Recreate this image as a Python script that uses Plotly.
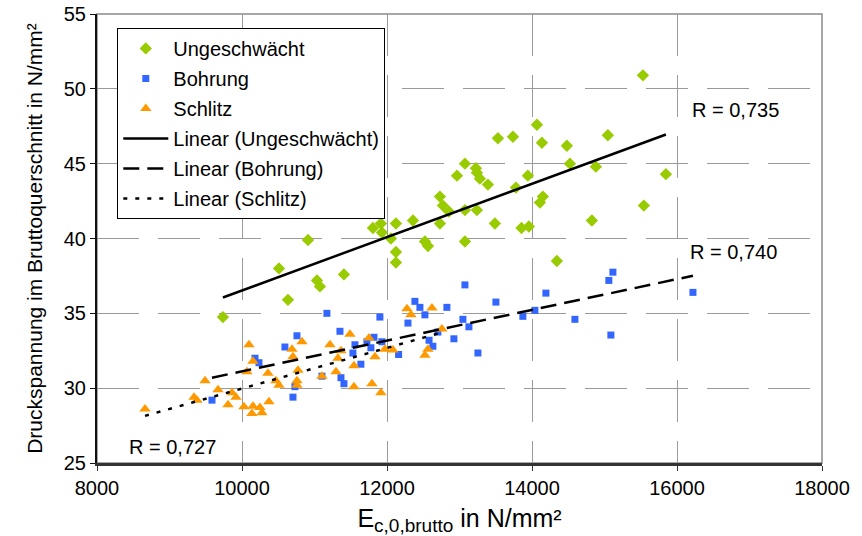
import numpy as np
import plotly.graph_objects as go

# ---- data ----
ung_x = [9737, 10510, 10634, 10910, 11034, 11075, 11406, 11806, 11916, 11930,
         12054, 12123, 12123, 12123, 12358, 12523, 12565, 12730, 12771, 12730,
         12854, 12965, 13075, 13075, 13075, 13226, 13240, 13281, 13240, 13392,
         13488, 13530, 13737, 13778, 13855, 13957, 13943, 14068, 14137, 14109,
         14150, 14343, 14481, 14523, 14826, 14881, 15046, 15530, 15543, 15847]
ung_y = [34.75, 38.0, 35.9, 39.9, 37.2, 36.8, 37.6, 40.7, 41.0, 40.4,
         40.0, 41.0, 39.1, 38.4, 41.2, 39.8, 39.5, 42.8, 42.2, 41.0,
         41.8, 44.2, 45.0, 41.9, 39.8, 44.7, 44.4, 44.0, 41.9, 43.6,
         41.0, 46.7, 46.8, 43.4, 40.7, 40.8, 44.2, 47.6, 46.4, 42.4,
         42.8, 38.5, 46.2, 45.0, 41.2, 44.8, 46.9, 50.9, 42.2, 44.3]

bohr_x = [9586, 10179, 10234, 10592, 10703, 10730, 10758, 11103, 11171, 11351,
          11365, 11406, 11530, 11558, 11640, 11723, 11778, 11820, 11902, 11930,
          12160, 12289, 12385, 12454, 12523, 12580, 12633, 12702, 12826, 12923,
          13047, 13075, 13130, 13254, 13502, 13874, 14040, 14192, 14592, 15060,
          15088, 15116, 16220]
bohr_y = [29.2, 32.0, 31.7, 32.75, 29.4, 30.1, 33.5, 30.8, 35.0, 33.8,
          30.7, 30.3, 32.35, 32.9, 31.6, 33.1, 32.7, 33.4, 34.75, 33.1,
          32.25, 34.35, 35.8, 35.4, 34.9, 33.2, 32.8, 33.75, 35.4, 33.3,
          34.6, 36.9, 34.1, 32.35, 35.75, 34.8, 35.2, 36.35, 34.6, 37.2,
          33.55, 37.75, 36.4]

schl_x = [8662, 9338, 9379, 9490, 9669, 9807, 9862, 9917, 10027, 10068,
          10096, 10137, 10151, 10151, 10247, 10275, 10358, 10372, 10468, 10510,
          10689, 10703, 10758, 10758, 10772, 10827, 11103, 11213, 11296, 11323,
          11365, 11489, 11544, 11544, 11751, 11792, 11834, 11916, 11971, 12082,
          12275, 12330, 12523, 12565, 12620, 12757]
schl_y = [28.6, 29.4, 29.2, 30.5, 29.9, 28.9, 29.7, 29.4, 28.75, 31.1,
          32.9, 28.3, 31.8, 28.8, 28.7, 28.35, 31.0, 29.1, 30.5, 30.2,
          32.6, 32.1, 30.5, 30.2, 31.2, 33.1, 30.8, 32.9, 31.1, 32.0,
          32.5, 33.6, 31.5, 30.1, 33.35, 30.3, 32.1, 29.7, 32.6, 32.55,
          35.3, 34.9, 32.2, 32.6, 35.35, 33.95]

r_labels = ["R = 0,735", "R = 0,740", "R = 0,727"]

FONT = "Liberation Sans, Arial, sans-serif"


def trend(xs, ys):
    xs = np.asarray(xs, float)
    ys = np.asarray(ys, float)
    k, d = np.polyfit(xs, ys, 1)
    xx = np.array([xs.min(), xs.max()])
    return xx, k * xx + d


fig = go.Figure()

fig.add_trace(go.Scatter(x=ung_x, y=ung_y, mode="markers", name="Ungeschwächt",
                         legendgroup="a",
                         marker=dict(symbol="diamond", size=9.5, color="#99CC00")))
fig.add_trace(go.Scatter(x=bohr_x, y=bohr_y, mode="markers", name="Bohrung",
                         legendgroup="b",
                         marker=dict(symbol="square", size=7, color="#3366FF")))
fig.add_trace(go.Scatter(x=schl_x, y=schl_y, mode="markers", name="Schlitz",
                         legendgroup="c",
                         marker=dict(symbol="triangle-up", size=10, color="#FF9900")))

tx, ty = trend(ung_x, ung_y)
fig.add_trace(go.Scatter(x=tx, y=ty, mode="lines", name="Linear (Ungeschwächt)",
                         legendgroup="d", line=dict(color="black", width=2.5)))
tx, ty = trend(bohr_x, bohr_y)
fig.add_trace(go.Scatter(x=tx, y=ty, mode="lines", name="Linear (Bohrung)",
                         legendgroup="e",
                         line=dict(color="black", width=2.5, dash="16px,8px")))
tx, ty = trend(schl_x, schl_y)
fig.add_trace(go.Scatter(x=tx, y=ty, mode="lines", name="Linear (Schlitz)",
                         legendgroup="f",
                         line=dict(color="black", width=2.5, dash="4px,8px")))

fig.add_annotation(x=16178, y=48.6, text=r_labels[0], showarrow=False,
                   xanchor="left", yanchor="middle", font=dict(size=20, color="black"))
fig.add_annotation(x=16150, y=39.1, text=r_labels[1], showarrow=False,
                   xanchor="left", yanchor="middle", font=dict(size=20, color="black"))
fig.add_annotation(x=8414, y=26.1, text=r_labels[2], showarrow=False,
                   xanchor="left", yanchor="middle", font=dict(size=20, color="black"))

grid = dict(showgrid=True, gridcolor="#9a9a9a", gridwidth=1, griddash="42px,19px")

fig.update_xaxes(range=[8000, 18000], dtick=2000, tick0=8000, tickformat="d",
                 **grid, automargin=False,
                 showline=True, linecolor="#333333", linewidth=2.5,
                 zeroline=False,
                 ticks="outside", ticklen=5, tickcolor="#333333",
                 tickfont=dict(size=20, color="black"),
                 title=dict(text='E<sub><span style="font-size:19px">c,0,brutto</span></sub> in N/mm²',
                            font=dict(size=25, color="black")))
fig.update_yaxes(range=[25, 55], dtick=5, tick0=25, **grid, automargin=False,
                 showline=True, linecolor="#111111", linewidth=2,
                 zeroline=False,
                 ticks="outside", ticklen=5, tickcolor="#111111",
                 tickfont=dict(size=20, color="black"),
                 title=dict(text="Druckspannung im Bruttoquerschnitt in N/mm²",
                            font=dict(size=21, color="black")))

# top / right frame
fig.add_shape(type="rect", xref="paper", yref="paper", x0=0, y0=0, x1=1, y1=1,
              line=dict(color="#8a8a8a", width=1.5), layer="below")

fig.update_layout(
    width=862, height=536,
    margin=dict(l=97, r=40, t=14, b=73, autoexpand=False),
    paper_bgcolor="white", plot_bgcolor="white",
    font=dict(family=FONT, color="black"),
    showlegend=True,
    legend=dict(x=0.028, y=0.969, xanchor="left", yanchor="top",
                bgcolor="white", bordercolor="black", borderwidth=1,
                font=dict(size=20, color="black"), tracegroupgap=1,
                itemwidth=45),
)

fig.write_html("out.html",
               config={"displayModeBar": False},
               post_script="document.body.style.margin='0px';")
